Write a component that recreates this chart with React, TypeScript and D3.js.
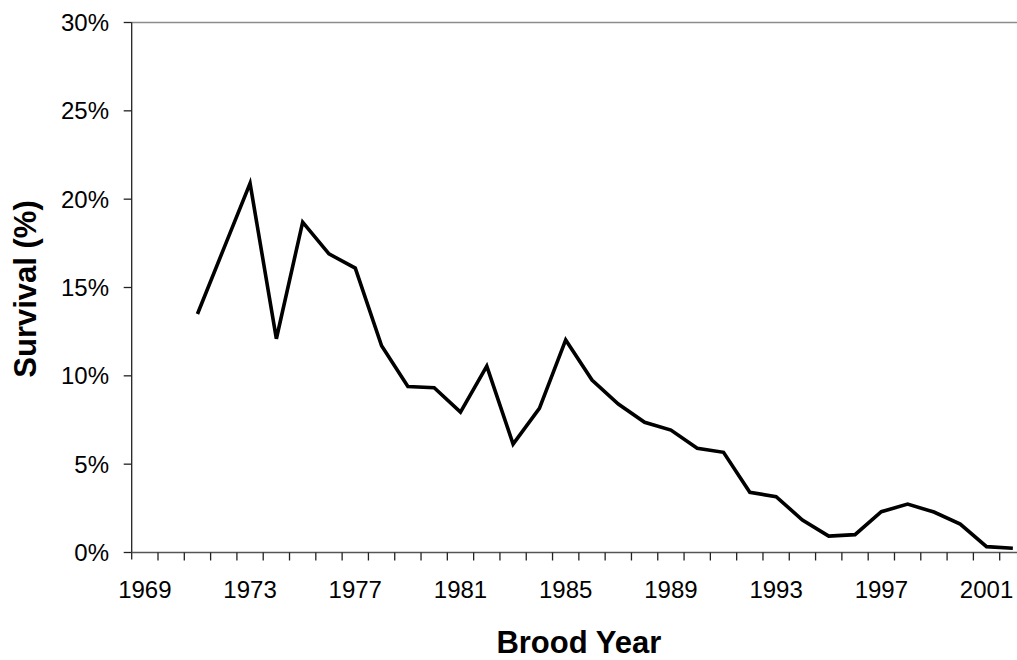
import React from "react";
import * as d3 from "d3";

const years: number[] = d3.range(1969, 2003);
const survival: (number | null)[] = [
  null, null, 13.5, 17.2, 20.9, 12.1, 18.7, 16.9, 16.1, 11.7,
  9.4, 9.33, 7.95, 10.55, 6.14, 8.16, 12.03, 9.76, 8.4, 7.37,
  6.93, 5.9, 5.67, 3.41, 3.16, 1.84, 0.93, 1.01, 2.31, 2.74,
  2.29, 1.61, 0.33, 0.24,
];
const yTicks: number[] = [0, 5, 10, 15, 20, 25, 30];
const xLabelYears: number[] = [1969, 1973, 1977, 1981, 1985, 1989, 1993, 1997, 2001];

const W = 1017;
const H = 660;
const left = 131.7;
const right = 1026;
const top = 22.5;
const bottom = 552.5;

export default function App() {
  const x = d3
    .scaleBand<number>()
    .domain(years)
    .range([left, right])
    .paddingInner(0)
    .paddingOuter(0);
  const y = d3.scaleLinear().domain([0, 30]).range([bottom, top]);

  const pts = years.map((yr, i) => ({ yr, v: survival[i] }));
  const line = d3
    .line<{ yr: number; v: number | null }>()
    .defined((d) => d.v !== null)
    .x((d) => (x(d.yr) as number) + x.bandwidth() / 2)
    .y((d) => y(d.v as number));

  const font = "Arial, 'Liberation Sans', Helvetica, sans-serif";

  return (
    <svg
      width={W}
      height={H}
      style={{ position: "absolute", left: 0, top: 0, background: "#fff" }}
      fontFamily={font}
    >
      <rect x={0} y={0} width={W} height={H} fill="#fff" />
      {/* top border */}
      <line x1={left} x2={W} y1={top} y2={top} stroke="#8c8c8c" strokeWidth={1.5} />
      {/* y axis */}
      <line x1={left} x2={left} y1={top} y2={bottom + 7} stroke="#222" strokeWidth={1.3} />
      {yTicks.map((t) => (
        <g key={t}>
          <line x1={left - 8} x2={left} y1={y(t)} y2={y(t)} stroke="#222" strokeWidth={1.3} />
          <text
            x={109}
            y={y(t)}
            textAnchor="end"
            dominantBaseline="central"
            fontSize={24}
            fill="#000"
          >
            {t}%
          </text>
        </g>
      ))}
      {/* x axis */}
      <line x1={left} x2={W} y1={bottom} y2={bottom} stroke="#555" strokeWidth={1.5} />
      {years.map((yr, i) =>
        i === 0 ? null : (
          <line
            key={yr}
            x1={x(yr) as number}
            x2={x(yr) as number}
            y1={bottom}
            y2={bottom + 8}
            stroke="#222"
            strokeWidth={1.3}
          />
        )
      )}
      {xLabelYears.map((yr) => (
        <text
          key={yr}
          x={(x(yr) as number) + x.bandwidth() / 2}
          y={598}
          textAnchor="middle"
          fontSize={24}
          fill="#000"
        >
          {yr}
        </text>
      ))}
      {/* data line */}
      <path
        d={line(pts) || ""}
        fill="none"
        stroke="#000"
        strokeWidth={3.6}
        strokeLinejoin="miter"
      />
      {/* axis titles */}
      <text
        x={(left + right) / 2}
        y={653}
        textAnchor="middle"
        fontSize={31}
        fontWeight="bold"
        fill="#000"
      >
        Brood Year
      </text>
      <text
        transform={`translate(36, 289) rotate(-90)`}
        textAnchor="middle"
        fontSize={31}
        fontWeight="bold"
        fill="#000"
      >
        Survival (%)
      </text>
    </svg>
  );
}
